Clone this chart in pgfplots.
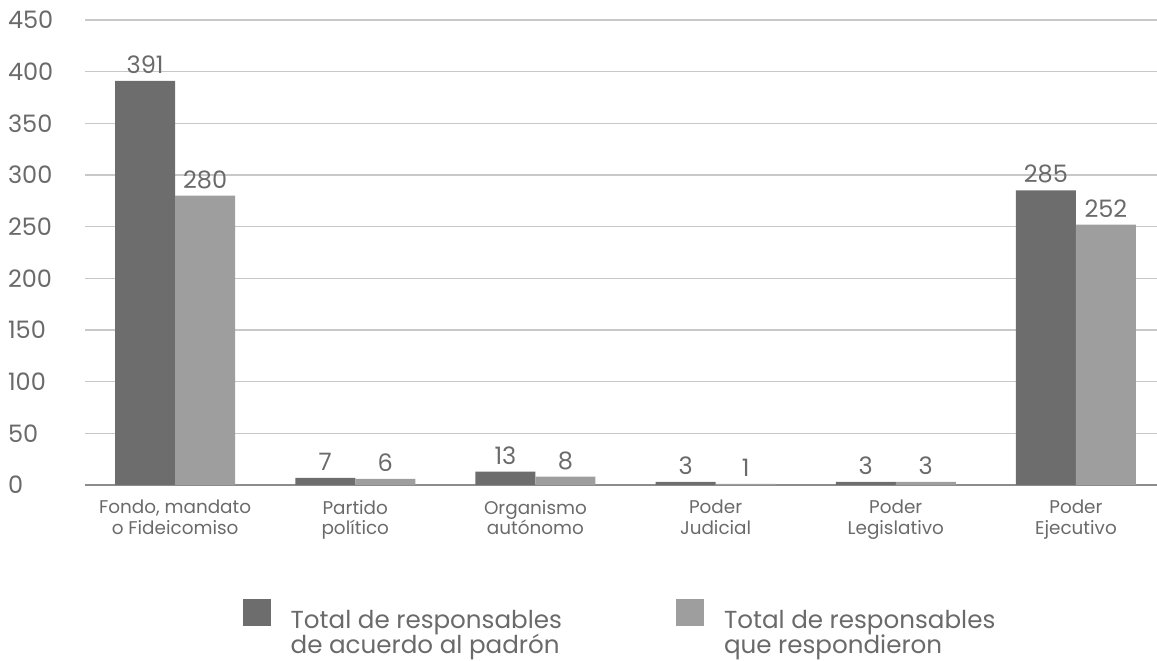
\documentclass[border=0pt]{standalone}
\usepackage{pgfplots}
\pgfplotsset{compat=1.18}
\usepackage{fontspec}
\setmainfont{Poppins}
\definecolor{darkbar}{HTML}{6D6D6D}
\definecolor{lightbar}{HTML}{9E9E9E}
\definecolor{txt}{HTML}{6A6A6A}
\definecolor{gridc}{HTML}{C8C8C8}
\begin{document}
\begin{tikzpicture}
\begin{axis}[
  name=ax,
  scale only axis,
  width=536pt, height=232.5pt,
  ybar=0pt, bar width=30pt,
  xmin=-0.5, xmax=5.45,
  ymin=0, ymax=450,
  ytick={0,50,...,450},
  xtick=data,
  xticklabels={{Fondo, mandato\\o Fideicomiso},{Partido\\político},{Organismo\\autónomo},{Poder\\Judicial},{Poder\\Legislativo},{Poder\\Ejecutivo}},
  xticklabel style={align=center, font=\fontsize{9.2}{10.3}\selectfont, text=txt, yshift=-4pt},
  yticklabel style={anchor=west, xshift=-42pt, font=\fontsize{12}{14}\selectfont, text=txt},
  /pgf/number format/assume math mode=true,
  xmajorgrids=false,
  ymajorgrids, grid style={draw=gridc, line width=0.8pt},
  major tick length=0pt,
  axis line style={draw=none},
  axis x line*=bottom,
  extra y ticks={0}, extra y tick style={grid style={draw=black!45, line width=1pt}, yticklabels={}},
  nodes near coords,
  nodes near coords style={font=\fontsize{12}{14}\selectfont, text=txt},
  legend columns=2,
  legend style={draw=none, fill=none, at={(0.5,-0.236)}, anchor=north,
     font=\fontsize{12.3}{14}\selectfont, text=txt,
     /tikz/every odd column/.append style={column sep=8pt},
     /tikz/every even column/.append style={column sep=55pt}},
  legend cell align=left,
  legend image code/.code={\fill[#1] (0pt,-3pt) rectangle (14pt,10.5pt);},
]
\addplot[fill=darkbar, draw=none] coordinates {(0,391) (1,7) (2,13) (3,3) (4,3) (5,285)};
\addplot[fill=lightbar, draw=none] coordinates {(0,280) (1,6) (2,8) (3,1) (4,3) (5,252)};
\legend{{\begin{tabular}[t]{@{}l@{}}Total de responsables\\[-1.5pt]de acuerdo al padrón\end{tabular}},{\begin{tabular}[t]{@{}l@{}}Total de responsables\\[-1.5pt]que respondieron\end{tabular}}}
\end{axis}
\pgfresetboundingbox
\path (ax.south west)++(-42.5pt,-88pt) coordinate (bl);
\path (ax.north east)++(0pt,10pt) coordinate (tr);
\path[use as bounding box] (bl) rectangle (tr);
\end{tikzpicture}
\end{document}
